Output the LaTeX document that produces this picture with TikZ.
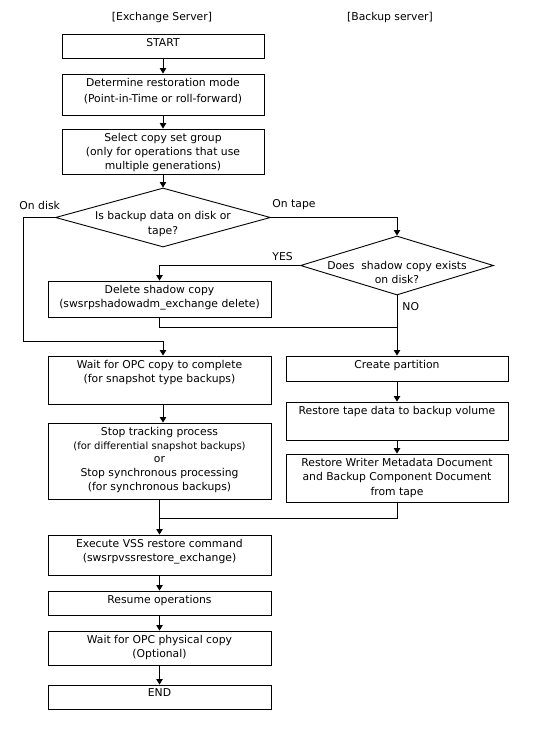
\documentclass[tikz,border=0pt]{standalone}
\usepackage{fontspec}
\setmainfont{DejaVu Sans}
\usetikzlibrary{arrows.meta,shapes.geometric}
\newcommand\flowbox[5]{\node[box, minimum width={#4-#2}, minimum height={#5-#3}] (#1) at ({(#2+#4)/2},{(#3+#5)/2}) {};}
\begin{document}
\begin{tikzpicture}[x=1pt,y=-1pt,
  line width=0.9pt,
  box/.style={draw, rectangle, inner sep=0pt},
  dia/.style={draw, diamond, inner sep=0pt},
  txt/.style={anchor=north, align=center, inner sep=0pt, font=\fontsize{10.8}{14.3}\selectfont},
  lbl/.style={inner sep=0pt, font=\fontsize{10.8}{14.3}\selectfont},
  arr/.style={-{Triangle[length=5.5pt,width=6.5pt]}}]
\useasboundingbox (0,0) rectangle (550,730);
\fill[white] (0,0) rectangle (550,730);

% headers
\node[lbl] (h1) at (162,18) {[Exchange Server]};
\node[lbl] (h2) at (390,18) {[Backup server]};

% boxes
\flowbox{start}{62}{34}{264}{58}
\flowbox{mode}{62}{74}{264}{115}
\flowbox{group}{62}{129}{264}{174}
\node[dia, minimum width=215, minimum height=59] (dec1) at (163,217.5) {};
\node[dia, minimum width=193, minimum height=59] (dec2) at (397,265.5) {};
\flowbox{del}{48}{281}{271}{317}
\flowbox{wait}{48}{356}{271}{404}
\flowbox{stop}{48}{423}{271}{499}
\flowbox{part}{286}{356}{508}{381}
\flowbox{tape}{286}{402}{508}{440}
\flowbox{wmd}{286}{454}{508}{502}
\flowbox{exec}{48}{535}{271}{575}
\flowbox{resume}{48}{591}{271}{615}
\flowbox{opc}{48}{631}{271}{665}
\flowbox{end}{48}{685}{271}{709}

% texts
\node[txt] (t-start) at ([yshift=-4pt]start.north) {START};
\node[txt, font=\fontsize{10.8}{16}\selectfont] (t-mode) at ([yshift=-4pt]mode.north) {Determine restoration mode\\(Point-in-Time or roll-forward)};
\node[txt] (t-group) at ([yshift=-4pt]group.north) {Select copy set group\\(only for operations that use\\multiple generations)};
\node[txt, font=\fontsize{10.8}{15}\selectfont] (t-dec1) at (163,211) {Is backup data on disk or\\tape?};
\node[txt] (t-dec2) at (397,261) {Does\ \ shadow copy exists\\on disk?};
\node[txt] (t-del) at ([yshift=-4pt]del.north) {Delete shadow copy\\(swsrpshadowadm\_exchange delete)};
\node[txt] (t-wait) at ([yshift=-4pt]wait.north) {Wait for OPC copy to complete\\(for snapshot type backups)};
\node[txt, font=\fontsize{10.8}{13.8}\selectfont] (t-stop) at ([yshift=-4pt]stop.north) {Stop tracking process\\{\fontsize{10}{13.8}\selectfont(for differential snapshot backups)}\\or\\Stop synchronous processing\\(for synchronous backups)};
\node[txt] (t-part) at ([yshift=-4pt]part.north) {Create partition};
\node[txt] (t-tape) at ([yshift=-4pt]tape.north) {Restore tape data to backup volume};
\node[txt, font=\fontsize{10.8}{14.7}\selectfont] (t-wmd) at ([yshift=-4pt]wmd.north) {Restore Writer Metadata Document\\and Backup Component Document\\from tape};
\node[txt] (t-exec) at ([yshift=-4pt]exec.north) {Execute VSS restore command\\(swsrpvssrestore\_exchange)};
\node[txt] (t-resume) at ([yshift=-4pt]resume.north) {Resume operations};
\node[txt] (t-opc) at ([yshift=-4pt]opc.north) {Wait for OPC physical copy\\(Optional)};
\node[txt] (t-end) at ([yshift=-4pt]end.north) {END};

% labels
\node[lbl, anchor=west] (l-disk) at (19,205) {On disk};
\node[lbl, anchor=west] (l-tape) at (272,205) {On tape};
\node[lbl, anchor=west] (l-yes) at (272,257) {YES};
\node[lbl, anchor=west] (l-no) at (402,307) {NO};

% connectors
\draw[arr] (start) -- (mode);
\draw[arr] (mode) -- (group);
\draw[arr] (group) -- (dec1);
\draw[arr] (dec1.east) -| (dec2.north);
\coordinate (c1) at (23,217.5);
\coordinate (c2) at (163,341);
\draw[arr] (dec1.west) -- (c1) |- (c2) -- (wait.north -| dec1.south);
\draw[arr] (dec2.west) -| (del.north);
\draw[arr] (dec2.south) -- (part.north);
\coordinate (j1) at (397,327);
\draw (del.south) |- (j1);
\draw[arr] (wait.south -| dec1.south) -- (stop.north -| dec1.south);
\draw[arr] (part) -- (tape);
\draw[arr] (tape) -- (wmd);
\coordinate (m2) at (159.5,518);
\draw (stop.south) -- (m2);
\draw (wmd.south) |- (m2);
\draw[arr] (m2) -- (exec.north);
\draw[arr] (exec) -- (resume);
\draw[arr] (resume) -- (opc);
\draw[arr] (opc) -- (end);
\end{tikzpicture}
\end{document}
